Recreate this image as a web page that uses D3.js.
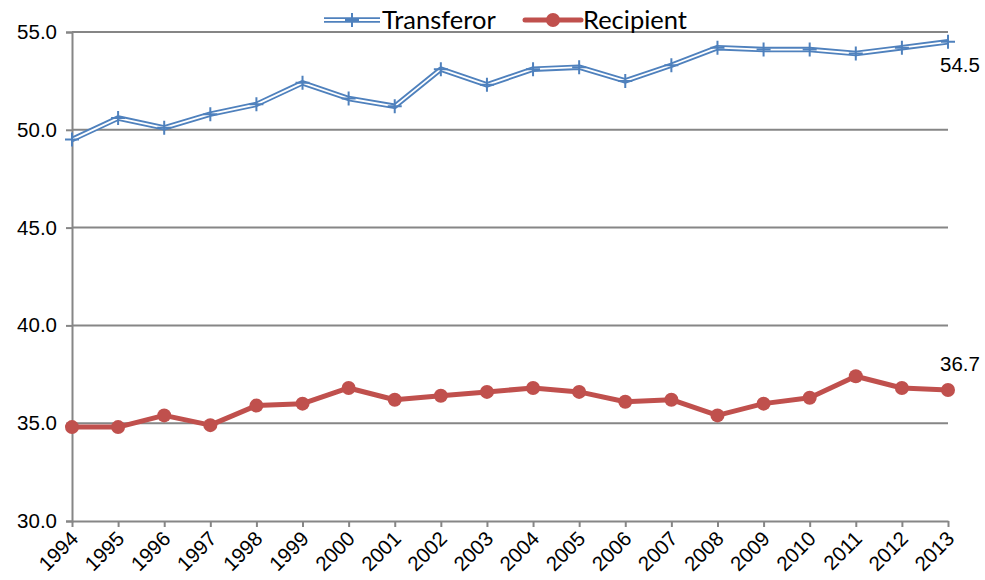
<!DOCTYPE html>
<html>
<head>
<meta charset="utf-8">
<script src="https://cdnjs.cloudflare.com/ajax/libs/d3/7.8.5/d3.min.js"></script>
<style>
  body { margin: 0; background: #fff; }
  svg { display: block; }
</style>
</head>
<body>
<div class="chart"></div>
<script>
const years = ['1994','1995','1996','1997','1998','1999','2000','2001','2002','2003',
  '2004','2005','2006','2007','2008','2009','2010','2011','2012','2013']
const transferor = [49.5, 50.6, 50.1, 50.8, 51.3, 52.4, 51.6, 51.2, 53.1, 52.3,
  53.1, 53.2, 52.5, 53.3, 54.2, 54.1, 54.1, 53.9, 54.2, 54.5]
const recipient = [34.8, 34.8, 35.4, 34.9, 35.9, 36.0, 36.8, 36.2, 36.4, 36.6,
  36.8, 36.6, 36.1, 36.2, 35.4, 36.0, 36.3, 37.4, 36.8, 36.7]
const yTicks = [30, 35, 40, 45, 50, 55]

const width = 985
const height = 580
const margin = { top: 32, right: 37, bottom: 59, left: 72 }
const blue = '#4F81BD'
const red = '#C0504D'
const grey = '#868686'
const numFont = "'Liberation Sans', Arial, sans-serif"
const legFont = "Lato, 'Open Sans', sans-serif"

const svg = d3.select('.chart')
  .append('svg')
  .attr('width', width)
  .attr('height', height)

const xScale = d3.scalePoint()
  .domain(years)
  .range([margin.left, width - margin.right])

const yScale = d3.scaleLinear()
  .domain([30, 55])
  .range([height - margin.bottom, margin.top])

// gridlines
svg.append('g')
  .selectAll('line')
  .data(yTicks.filter(d => d > 30))
  .enter()
  .append('line')
  .attr('x1', margin.left)
  .attr('x2', width - margin.right)
  .attr('y1', d => yScale(d))
  .attr('y2', d => yScale(d))
  .attr('stroke', grey)
  .attr('stroke-width', 2)

// y axis
const yAxis = svg.append('g')
  .attr('transform', `translate(${margin.left},0)`)
  .call(d3.axisLeft(yScale).tickValues(yTicks).tickFormat(d3.format('.1f')).tickSize(6).tickPadding(9))
yAxis.attr('font-family', null).attr('font-size', null)
yAxis.select('.domain').attr('stroke', grey).attr('stroke-width', 2)
yAxis.selectAll('.tick line').attr('stroke', grey).attr('stroke-width', 2)
yAxis.selectAll('text')
  .attr('fill', '#000')
  .style('font-family', numFont)
  .style('font-size', '20.5px')

// x axis
const xAxis = svg.append('g')
  .attr('transform', `translate(0,${yScale(30)})`)
  .call(d3.axisBottom(xScale).tickSize(6).tickSizeOuter(0))
xAxis.attr('font-family', null).attr('font-size', null)
xAxis.select('.domain').attr('stroke', grey).attr('stroke-width', 2)
xAxis.selectAll('.tick line').attr('stroke', grey).attr('stroke-width', 2)
xAxis.selectAll('text')
  .attr('fill', '#000')
  .attr('text-anchor', 'end')
  .attr('dy', null)
  .attr('y', 0)
  .attr('transform', 'translate(7,19) rotate(-45)')
  .style('font-family', numFont)
  .style('font-size', '20.5px')

// transferor: double (compound) line
const line = d3.line()
  .x((d, i) => xScale(years[i]))
  .y(d => yScale(d))

svg.append('path')
  .datum(transferor)
  .attr('fill', 'none')
  .attr('stroke', blue)
  .attr('stroke-width', 5.5)
  .attr('stroke-linejoin', 'round')
  .attr('d', line)
svg.append('path')
  .datum(transferor)
  .attr('fill', 'none')
  .attr('stroke', '#fff')
  .attr('stroke-width', 1.8)
  .attr('stroke-linejoin', 'round')
  .attr('d', line)

svg.append('g')
  .selectAll('path')
  .data(transferor)
  .enter()
  .append('path')
  .attr('transform', (d, i) => `translate(${xScale(years[i])},${yScale(d)})`)
  .attr('d', 'M-7,0H7M0,-7V7')
  .attr('stroke', blue)
  .attr('stroke-width', 2)

// recipient line
svg.append('path')
  .datum(recipient)
  .attr('fill', 'none')
  .attr('stroke', red)
  .attr('stroke-width', 5)
  .attr('stroke-linejoin', 'round')
  .attr('d', line)
svg.append('g')
  .selectAll('circle')
  .data(recipient)
  .enter()
  .append('circle')
  .attr('cx', (d, i) => xScale(years[i]))
  .attr('cy', d => yScale(d))
  .attr('r', 7)
  .attr('fill', red)

// end labels
const lastX = xScale(years[years.length - 1])
svg.append('text')
  .attr('x', lastX - 8)
  .attr('y', yScale(transferor[transferor.length - 1]) + 30)
  .text(transferor[transferor.length - 1].toFixed(1))
  .style('font-family', numFont)
  .style('font-size', '20.5px')
svg.append('text')
  .attr('x', lastX - 8)
  .attr('y', yScale(recipient[recipient.length - 1]) - 19)
  .text(recipient[recipient.length - 1].toFixed(1))
  .style('font-family', numFont)
  .style('font-size', '20.5px')

// legend
const legend = svg.append('g').attr('transform', 'translate(324,20)')
legend.append('line').attr('x1', 0).attr('x2', 56).attr('y1', 0).attr('y2', 0)
  .attr('stroke', blue).attr('stroke-width', 5.5)
legend.append('line').attr('x1', 0).attr('x2', 56).attr('y1', 0).attr('y2', 0)
  .attr('stroke', '#fff').attr('stroke-width', 1.8)
legend.append('path').attr('transform', 'translate(28,0)').attr('d', 'M-7,0H7M0,-7V7')
  .attr('stroke', blue).attr('stroke-width', 2)
legend.append('text').attr('x', 58).attr('y', 9).text('Transferor')
  .style('font-family', legFont).style('font-size', '25.5px')

legend.append('line').attr('x1', 201).attr('x2', 257).attr('y1', 0).attr('y2', 0)
  .attr('stroke', red).attr('stroke-width', 5).attr('stroke-linecap', 'round')
legend.append('circle').attr('cx', 229).attr('cy', 0).attr('r', 7).attr('fill', red)
legend.append('text').attr('x', 259).attr('y', 9).text('Recipient')
  .style('font-family', legFont).style('font-size', '25.5px')
</script>
</body>
</html>
